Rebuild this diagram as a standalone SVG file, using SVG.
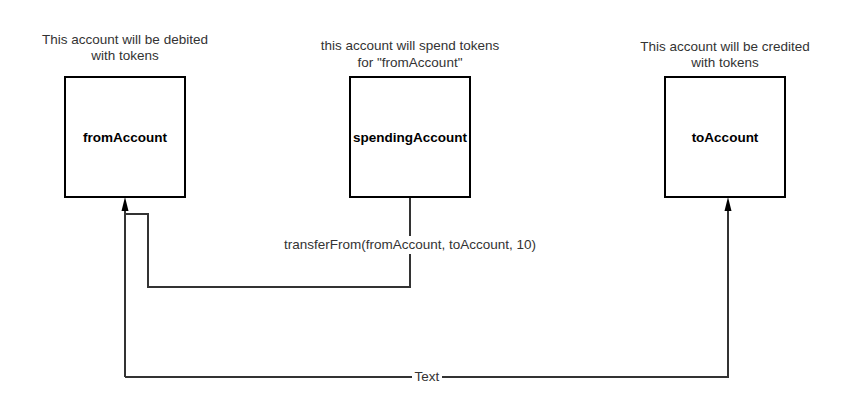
<svg xmlns="http://www.w3.org/2000/svg" width="862" height="410" viewBox="0 0 862 410">
<style>
.box{fill:#fff;stroke:#000;stroke-width:2}
.lbl{font-family:"Liberation Sans",Arial,sans-serif;font-size:13.5px;font-weight:bold;fill:#000;text-anchor:middle;dominant-baseline:central}
.cap{font-family:"Liberation Sans",Arial,sans-serif;font-size:13.5px;fill:#333;text-anchor:middle;dominant-baseline:central}
.edge{fill:none;stroke:#333;stroke-width:2}
.head{fill:#000}
</style>
<rect width="862" height="410" fill="#fff"/>
<g id="connectors">
<path class="edge" d="M410,197 V287 H148 V214 H125"/>
<path class="edge" d="M125,377 V210"/>
<path class="head" d="M121.5,211 L125,197 L128.5,211 Z"/>
<path class="edge" d="M125,377 H728 V210"/>
<path class="head" d="M724.5,211 L728,197 L731.5,211 Z"/>
<rect x="303" y="236" width="214" height="18" fill="#fff"/>
<text class="cap" x="410" y="244">transferFrom(fromAccount, toAccount, 10)</text>
<rect x="412" y="368" width="30" height="16" fill="#fff"/>
<text class="cap" x="427" y="376">Text</text>
</g>
<g id="fromAccount">
<rect class="box" x="65" y="77" width="120" height="120"/>
<text class="lbl" x="125" y="137">fromAccount</text>
<text class="cap" x="125" y="39">This account will be debited</text>
<text class="cap" x="125" y="55">with tokens</text>
</g>
<g id="spendingAccount">
<rect class="box" x="350" y="77" width="120" height="120"/>
<text class="lbl" x="410" y="137">spendingAccount</text>
<text class="cap" x="410" y="45">this account will spend tokens</text>
<text class="cap" x="410" y="62">for "fromAccount"</text>
</g>
<g id="toAccount">
<rect class="box" x="665" y="77" width="120" height="120"/>
<text class="lbl" x="725" y="137">toAccount</text>
<text class="cap" x="725" y="46">This account will be credited</text>
<text class="cap" x="725" y="62">with tokens</text>
</g>
</svg>
